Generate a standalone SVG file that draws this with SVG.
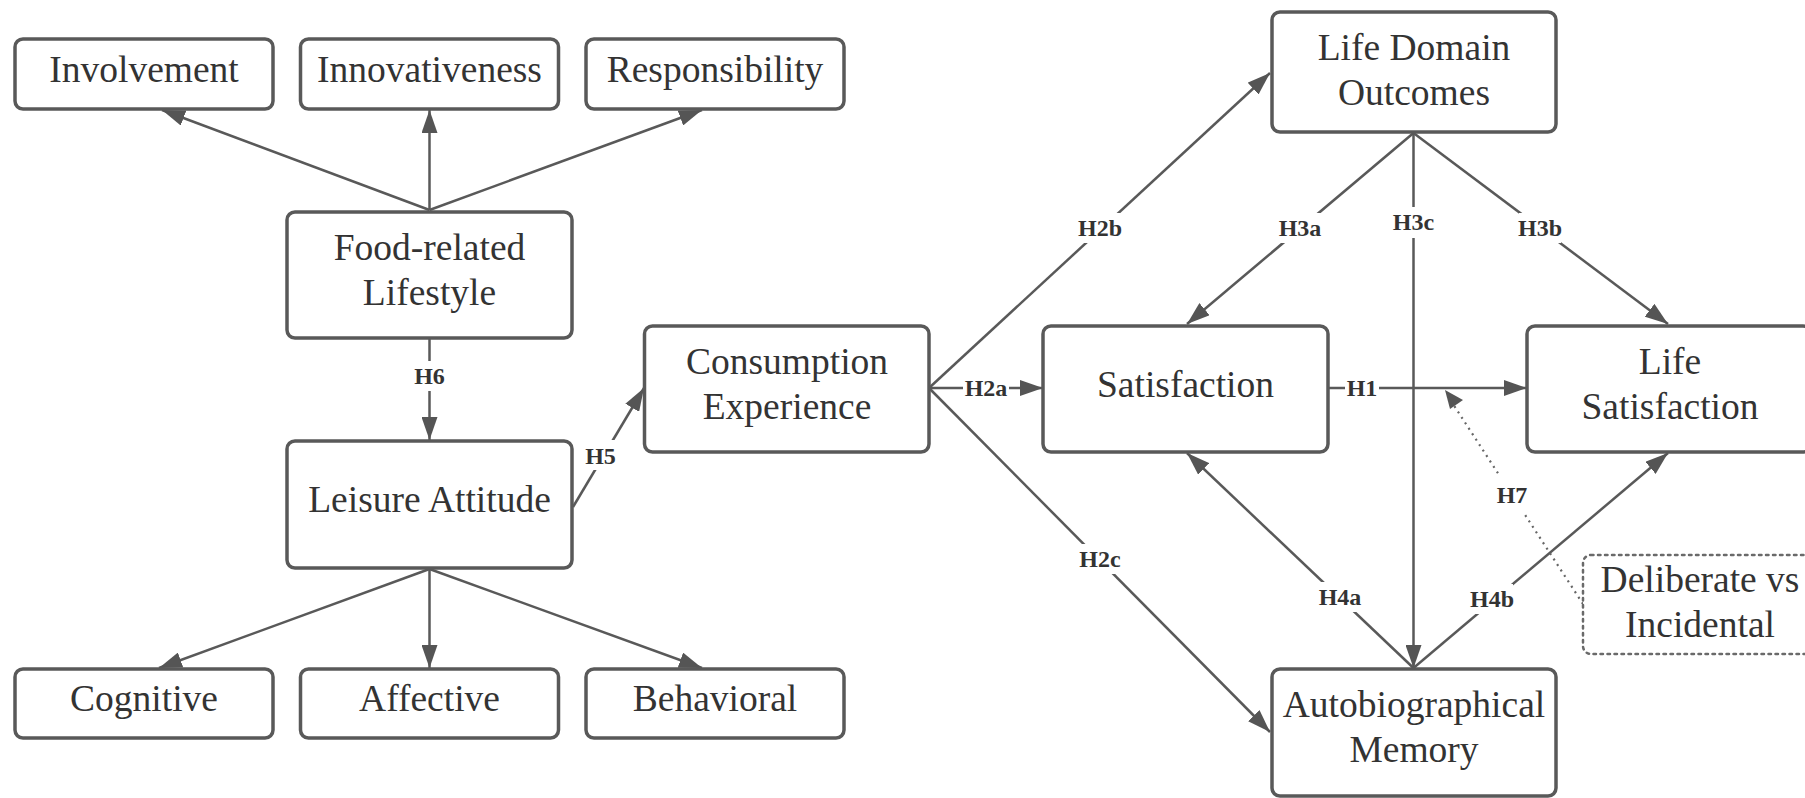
<svg xmlns="http://www.w3.org/2000/svg" width="1805" height="798" viewBox="0 0 1805 798">
<style>
.box{fill:#fff;stroke:#595959;stroke-width:3.5}
.dbox{fill:#fff;stroke:#6a6a6a;stroke-width:2.5;stroke-dasharray:2.5 4.5;stroke-linecap:round}
.t{font-family:"Liberation Serif","Times New Roman",serif;font-size:37.5px;fill:#333;text-anchor:middle}
.c{stroke:#595959;stroke-width:2.5;fill:none}
.arr{marker-end:url(#ah)}
.dot{stroke:#666;stroke-width:2.2;stroke-dasharray:2 4.5;fill:none}
.lb{font-family:"Liberation Serif","Times New Roman",serif;font-size:24px;font-weight:bold;fill:#333;text-anchor:middle}
.bg{fill:#fff}
</style>
<defs>
<marker id="ah" markerUnits="userSpaceOnUse" markerWidth="24" markerHeight="16" refX="23" refY="8" orient="auto">
<path d="M0,0 L23,8 L0,16 z" fill="#555"/>
</marker>
</defs>
<rect width="1805" height="798" fill="#fff"/>
<g id="connectors">
<line class="c arr" x1="429.5" y1="210" x2="162" y2="110"/>
<line class="c arr" x1="429.5" y1="210" x2="429.5" y2="110"/>
<line class="c arr" x1="429.5" y1="210" x2="702" y2="110"/>
<line class="c arr" x1="429.5" y1="339" x2="429.5" y2="440"/>
<line class="c arr" x1="429.5" y1="569" x2="159" y2="668"/>
<line class="c arr" x1="429.5" y1="569" x2="429.5" y2="668"/>
<line class="c arr" x1="429.5" y1="569" x2="702" y2="668"/>
<line class="c arr" x1="573" y1="507" x2="644" y2="388"/>
<line class="c arr" x1="929" y1="388" x2="1270" y2="73"/>
<line class="c arr" x1="929" y1="388" x2="1043" y2="388"/>
<line class="c arr" x1="929" y1="388" x2="1270" y2="732"/>
<line class="c arr" x1="1413.5" y1="133" x2="1187" y2="324"/>
<line class="c arr" x1="1413.5" y1="133" x2="1413.5" y2="668"/>
<line class="c arr" x1="1413.5" y1="133" x2="1668" y2="324"/>
<line class="c arr" x1="1328" y1="388" x2="1527" y2="388"/>
<line class="c arr" x1="1413.5" y1="668" x2="1187" y2="453"/>
<line class="c arr" x1="1413.5" y1="668" x2="1668" y2="453"/>
<line class="dot" x1="1583" y1="604" x2="1453" y2="404"/>
<path d="M1445,390 L1463,400 L1450,409 z" fill="#555"/>
<g id="labels">
<rect class="bg" x="413" y="361" width="33" height="30"/><text class="lb" x="429.5" y="384">H6</text>
<rect class="bg" x="584" y="440" width="33" height="30"/><text class="lb" x="600.5" y="464">H5</text>
<rect class="bg" x="1079" y="213" width="42" height="30"/><text class="lb" x="1100" y="236">H2b</text>
<rect class="bg" x="963" y="377" width="46" height="22"/><text class="lb" x="986" y="396">H2a</text>
<rect class="bg" x="1079" y="544" width="42" height="30"/><text class="lb" x="1100" y="567">H2c</text>
<rect class="bg" x="1279" y="213" width="42" height="30"/><text class="lb" x="1300" y="236">H3a</text>
<rect class="bg" x="1393" y="207" width="41" height="31"/><text class="lb" x="1413.5" y="230">H3c</text>
<rect class="bg" x="1519" y="213" width="42" height="30"/><text class="lb" x="1540" y="236">H3b</text>
<rect class="bg" x="1345" y="377" width="34" height="22"/><text class="lb" x="1362" y="396">H1</text>
<rect class="bg" x="1319" y="582" width="42" height="30"/><text class="lb" x="1340" y="605">H4a</text>
<rect class="bg" x="1471" y="584" width="42" height="30"/><text class="lb" x="1492" y="607">H4b</text>
<rect class="bg" x="1496" y="474" width="32" height="38"/><text class="lb" x="1512" y="503">H7</text>
</g>
</g>
<g id="involvement"><rect class="box" x="15" y="39" width="258" height="70" rx="8"/><text class="t" x="144" y="82">Involvement</text></g>
<g id="innovativeness"><rect class="box" x="300.5" y="39" width="258" height="70" rx="8"/><text class="t" x="429.5" y="82">Innovativeness</text></g>
<g id="responsibility"><rect class="box" x="586" y="39" width="258" height="70" rx="8"/><text class="t" x="715" y="82">Responsibility</text></g>
<g id="food-lifestyle"><rect class="box" x="287" y="212" width="285" height="126" rx="8"/><text class="t" x="429.5" y="260">Food-related</text><text class="t" x="429.5" y="305">Lifestyle</text></g>
<g id="leisure-attitude"><rect class="box" x="287" y="441" width="285" height="127" rx="8"/><text class="t" x="429.5" y="512">Leisure Attitude</text></g>
<g id="cognitive"><rect class="box" x="15" y="669" width="258" height="69" rx="8"/><text class="t" x="144" y="711">Cognitive</text></g>
<g id="affective"><rect class="box" x="300.5" y="669" width="258" height="69" rx="8"/><text class="t" x="429.5" y="711">Affective</text></g>
<g id="behavioral"><rect class="box" x="586" y="669" width="258" height="69" rx="8"/><text class="t" x="715" y="711">Behavioral</text></g>
<g id="consumption-experience"><rect class="box" x="644.5" y="326" width="284.5" height="126" rx="8"/><text class="t" x="787" y="374">Consumption</text><text class="t" x="787" y="419">Experience</text></g>
<g id="satisfaction"><rect class="box" x="1043" y="326" width="285" height="126" rx="8"/><text class="t" x="1185.5" y="397">Satisfaction</text></g>
<g id="life-domain-outcomes"><rect class="box" x="1272" y="12" width="284" height="120" rx="8"/><text class="t" x="1414" y="60">Life Domain</text><text class="t" x="1414" y="105">Outcomes</text></g>
<g id="life-satisfaction"><rect class="box" x="1527" y="326" width="284" height="126" rx="8"/><text class="t" x="1670" y="374">Life</text><text class="t" x="1670" y="419">Satisfaction</text></g>
<g id="autobiographical-memory"><rect class="box" x="1272" y="669" width="284" height="127" rx="8"/><text class="t" x="1414" y="717">Autobiographical</text><text class="t" x="1414" y="762">Memory</text></g>
<g id="deliberate-incidental"><rect class="dbox" x="1583" y="555" width="234" height="99" rx="8"/><text class="t" x="1700" y="592">Deliberate vs</text><text class="t" x="1700" y="637">Incidental</text></g>
</svg>
